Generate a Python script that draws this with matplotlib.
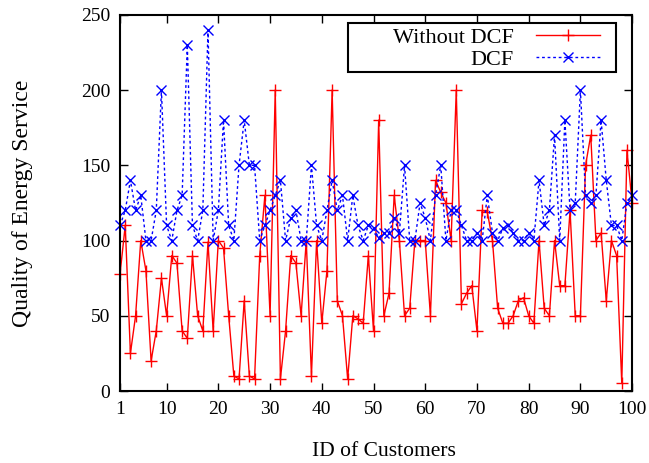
import matplotlib
matplotlib.use("Agg")
import matplotlib.pyplot as plt
import numpy as np
from matplotlib.patches import Rectangle

plt.rcParams['font.family'] = ['Liberation Serif', 'DejaVu Serif']

# customer ids 1..100
customers = np.arange(1, 101)

# quality of energy service, without DCF (red)
without_dcf = [
    78, 110, 25, 50, 100, 80, 20, 40, 75, 50,
    90, 85, 40, 35, 90, 50, 40, 99, 40, 100,
    95, 50, 10, 8, 60, 10, 8, 90, 130, 50,
    200, 8, 40, 90, 85, 50, 100, 10, 100, 45,
    80, 200, 60, 50, 8, 50, 48, 45, 90, 40,
    180, 50, 65, 130, 100, 50, 55, 100, 100, 100,
    50, 140, 132, 125, 100, 200, 58, 65, 70, 40,
    120, 119, 100, 55, 45, 45, 50, 60, 62, 50,
    45, 100, 55, 50, 100, 70, 70, 120, 50, 50,
    150, 170, 100, 105, 60, 100, 90, 5, 160, 125,
]

# quality of energy service, with DCF (blue)
with_dcf = [
    110, 120, 140, 120, 130, 100, 100, 120, 200, 110,
    100, 120, 130, 230, 110, 100, 120, 240, 100, 120,
    180, 110, 100, 150, 180, 150, 150, 100, 110, 120,
    130, 140, 100, 115, 120, 100, 100, 150, 110, 100,
    120, 140, 120, 130, 100, 130, 110, 100, 110, 108,
    102, 105, 105, 115, 105, 150, 100, 100, 125, 115,
    100, 130, 150, 100, 120, 120, 110, 100, 100, 105,
    100, 130, 105, 100, 108, 110, 105, 100, 100, 105,
    100, 140, 110, 120, 170, 100, 180, 120, 125, 200,
    130, 125, 130, 180, 140, 110, 110, 100, 125, 130,
]

fig = plt.figure(figsize=(6.49, 4.63), dpi=100)
ax = fig.add_axes([0.185, 0.1555, 0.789, 0.8125])

ax.plot(customers, without_dcf, color='#ff0000', lw=1.0, marker='+',
        ms=8, mew=1.0, label='Without DCF', clip_on=False)
ax.plot(customers, with_dcf, color='#0000ff', lw=1.0, dashes=(2, 2),
        marker='x', ms=6.5, mew=1.0, label='DCF', clip_on=False)

ax.set_xlim(1, 100)
ax.set_ylim(0, 250)
ax.set_xticks([1, 10, 20, 30, 40, 50, 60, 70, 80, 90, 100])
ax.set_yticks([0, 50, 100, 150, 200, 250])
ax.tick_params(direction='in', length=6, width=1.0, labelsize=14,
               top=True, right=True, pad=7)
for s in ax.spines.values():
    s.set_linewidth(1.5)
    s.set_zorder(6)

ax.set_xlabel('ID of Customers', fontsize=15.5)
ax.set_ylabel('Quality of Energy Service', fontsize=17)
ax.xaxis.set_label_coords(0.515, -0.135)
ax.yaxis.set_label_coords(-0.17, 0.5)

leg = ax.legend(loc='upper right', bbox_to_anchor=(0.955, 0.99),
                markerfirst=False, frameon=False, fontsize=16,
                handlelength=2.9, handletextpad=1.0, labelspacing=0.05,
                borderaxespad=0)
ax.add_patch(Rectangle((0.445, 0.848), 0.524, 0.131, transform=ax.transAxes,
                       fill=False, ec='black', lw=1.5, zorder=5))

fig.savefig('out.png', dpi=100)
